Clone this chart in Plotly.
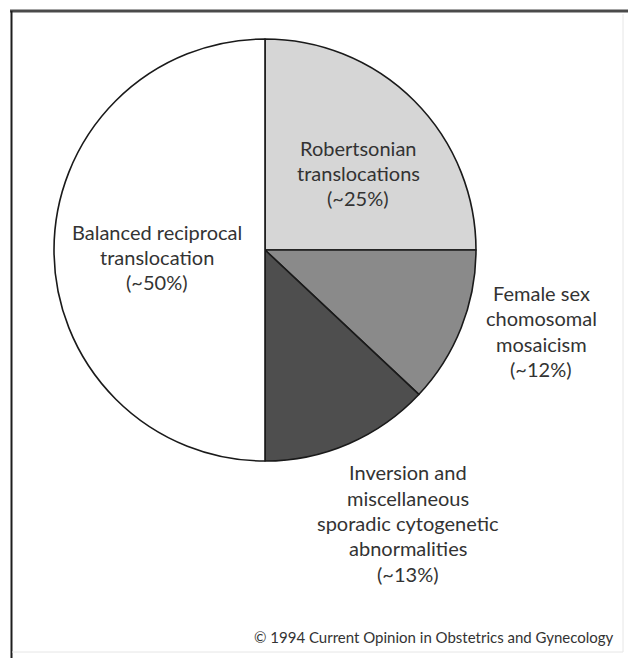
import plotly.graph_objects as go

W, H = 628, 658

# Data
categories = [
    "Robertsonian translocations",
    "Female sex chomosomal mosaicism",
    "Inversion and miscellaneous sporadic cytogenetic abnormalities",
    "Balanced reciprocal translocation",
]
values = [25, 12, 13, 50]
label_lines = [
    ["Robertsonian", "translocations", "(~25%)"],
    ["Female sex", "chomosomal", "mosaicism", "(~12%)"],
    ["Inversion and", "miscellaneous", "sporadic cytogenetic", "abnormalities", "(~13%)"],
    ["Balanced reciprocal", "translocation", "(~50%)"],
]
credit = "© 1994 Current Opinion in Obstetrics and Gynecology"

colors = ["#d6d6d6", "#8a8a8a", "#4e4e4e", "#ffffff"]
# label centre positions in pixels (x, y from top)
label_pos = [(358, 173), (541, 331), (408, 523), (157, 257)]

def px(x):
    return x / W

def py(y):
    return 1 - y / H

cx, cy, r = 265, 250, 211

fig = go.Figure(go.Pie(
    labels=categories,
    values=values,
    sort=False,
    direction="clockwise",
    rotation=0,
    marker=dict(colors=colors, line=dict(color="#1a1a1a", width=1.6)),
    textinfo="none",
    hoverinfo="label+percent",
    showlegend=False,
    domain=dict(x=[px(cx - r), px(cx + r)], y=[py(cy + r), py(cy - r)]),
))

font = dict(family="Lato, 'Open Sans', sans-serif", size=20, color="#333333")
line_h = 25.3
for lines, (lx, ly) in zip(label_lines, label_pos):
    n = len(lines)
    for i, t in enumerate(lines):
        yy = ly + (i - (n - 1) / 2) * line_h
        fig.add_annotation(x=px(lx), y=py(yy), xref="paper", yref="paper",
                           text=t, showarrow=False, font=font,
                           xanchor="center", yanchor="middle")

fig.add_annotation(x=px(616), y=py(637), xref="paper", yref="paper",
                   text=credit, showarrow=False,
                   font=dict(family="Lato, 'Open Sans', sans-serif", size=15, color="#333333"),
                   xanchor="right", yanchor="middle")

# frame
shapes = [
    dict(type="line", x0=px(10), x1=px(628), y0=py(11), y1=py(11), line=dict(color="#4a4a4a", width=3)),
    dict(type="line", x0=px(11.5), x1=px(11.5), y0=py(11), y1=py(658), line=dict(color="#1e1e1e", width=2)),
    dict(type="line", x0=px(623), x1=px(623), y0=py(14), y1=py(652), line=dict(color="#e6e6e6", width=1)),
    dict(type="line", x0=px(12), x1=px(623), y0=py(652), y1=py(652), line=dict(color="#e6e6e6", width=1)),
]
fig.update_layout(
    width=W, height=H,
    margin=dict(l=0, r=0, t=0, b=0),
    paper_bgcolor="white", plot_bgcolor="white",
    shapes=shapes,
)

fig.write_html("out.html")
